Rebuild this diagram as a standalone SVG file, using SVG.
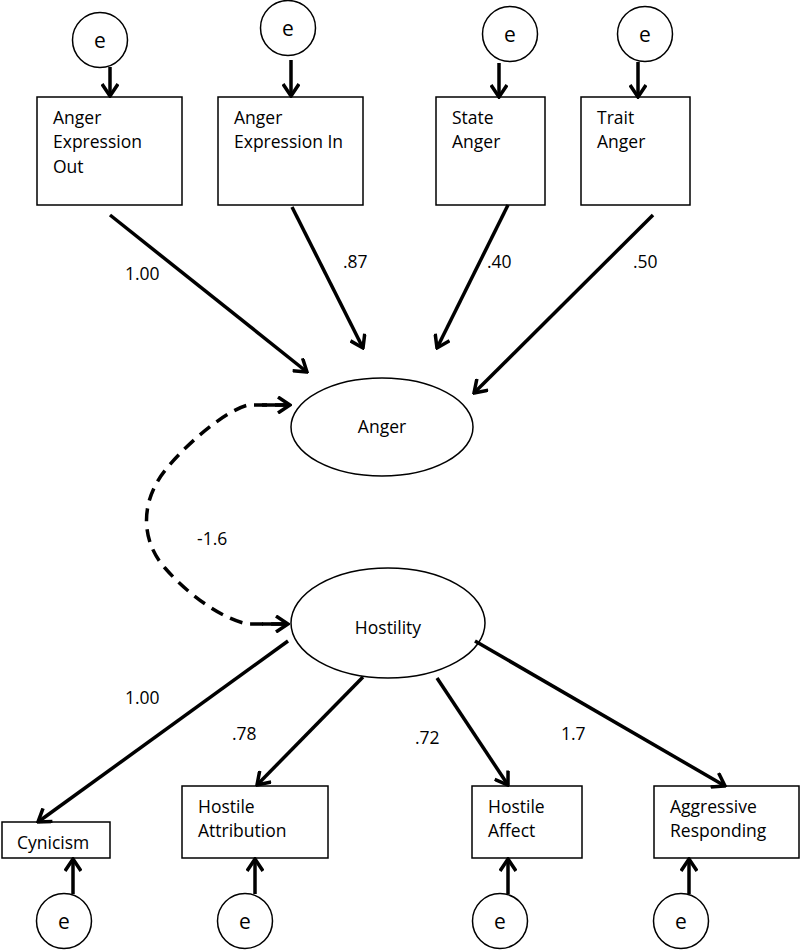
<svg xmlns="http://www.w3.org/2000/svg" width="800" height="950" viewBox="0 0 800 950">
<style>
text{font-family:"Open Sans","Liberation Sans",sans-serif;font-size:17.5px;fill:#000}
.e{font-size:21px;text-anchor:middle}
.nd{fill:#fff;stroke:#000;stroke-width:1.5}
.ln{stroke:#000;stroke-width:3.5;fill:none;marker-end:url(#ah)}
.ds{stroke:#000;stroke-width:3.5;fill:none;stroke-dasharray:13 8}
.c{text-anchor:middle}
</style>
<defs>
<marker id="ah" markerUnits="userSpaceOnUse" markerWidth="16" markerHeight="18" viewBox="-14 -9 16 18" refX="0" refY="0" orient="auto">
<path d="M-12,-8 L0,0 L-12,8" fill="none" stroke="#000" stroke-width="3.5"/>
</marker>
</defs>
<rect width="800" height="950" fill="#fff"/>
<g id="e1"><circle class="nd" cx="100" cy="40" r="27.5"/><text class="e" x="100" y="48">e</text></g>
<g id="e2"><circle class="nd" cx="288" cy="28" r="27.5"/><text class="e" x="288" y="36">e</text></g>
<g id="e3"><circle class="nd" cx="510" cy="34" r="27.5"/><text class="e" x="510" y="42">e</text></g>
<g id="e4"><circle class="nd" cx="645" cy="34" r="27.5"/><text class="e" x="645" y="42">e</text></g>
<g id="aeo"><rect class="nd" x="37" y="97" width="145" height="108"/><text x="53" y="124">Anger</text><text x="53" y="148">Expression</text><text x="53" y="173">Out</text></g>
<g id="aei"><rect class="nd" x="218" y="97" width="145" height="108"/><text x="234" y="124">Anger</text><text x="234" y="148">Expression In</text></g>
<g id="sa"><rect class="nd" x="436" y="97" width="109" height="108"/><text x="452" y="124">State</text><text x="452" y="148">Anger</text></g>
<g id="ta"><rect class="nd" x="581" y="97" width="109" height="108"/><text x="597" y="124">Trait</text><text x="597" y="148">Anger</text></g>
<g id="anger"><ellipse class="nd" cx="382" cy="427" rx="91" ry="49"/><text class="c" x="382" y="433">Anger</text></g>
<g id="hostility"><ellipse class="nd" cx="388" cy="623" rx="97" ry="55"/><text class="c" x="388" y="634">Hostility</text></g>
<g id="cyn"><rect class="nd" x="2" y="822" width="108" height="36"/><text x="17" y="849">Cynicism</text></g>
<g id="hat"><rect class="nd" x="182" y="786" width="146" height="72"/><text x="198" y="813">Hostile</text><text x="198" y="837">Attribution</text></g>
<g id="haf"><rect class="nd" x="472" y="786" width="110" height="72"/><text x="488" y="813">Hostile</text><text x="488" y="837">Affect</text></g>
<g id="ar"><rect class="nd" x="654" y="786" width="145" height="72"/><text x="670" y="813">Aggressive</text><text x="670" y="837">Responding</text></g>
<g id="e5"><circle class="nd" cx="64" cy="921" r="27.5"/><text class="e" x="64" y="929">e</text></g>
<g id="e6"><circle class="nd" cx="245" cy="921" r="27.5"/><text class="e" x="245" y="929">e</text></g>
<g id="e7"><circle class="nd" cx="500" cy="921" r="27.5"/><text class="e" x="500" y="929">e</text></g>
<g id="e8"><circle class="nd" cx="681" cy="921" r="27.5"/><text class="e" x="681" y="929">e</text></g>
<g id="connectors">
<line class="ln" x1="110" y1="67" x2="110" y2="96"/>
<line class="ln" x1="291" y1="60" x2="291" y2="96"/>
<line class="ln" x1="499" y1="63" x2="499" y2="97"/>
<line class="ln" x1="638" y1="62" x2="638" y2="97"/>
<line class="ln" x1="110" y1="215" x2="307" y2="372"/>
<line class="ln" x1="292" y1="207" x2="363" y2="348"/>
<line class="ln" x1="508" y1="205" x2="437" y2="348"/>
<line class="ln" x1="653" y1="215" x2="474" y2="393"/>
<path class="ds" d="M288,405 L248,405 C228,410 192,438 167,468 C140,500 140,540 165,568 C190,597 225,620 248,624 L286,624"/>
<line class="ln" x1="262" y1="405" x2="290" y2="405"/>
<line class="ln" x1="262" y1="624" x2="288" y2="624"/>
<line class="ln" x1="288" y1="641" x2="38" y2="822"/>
<line class="ln" x1="363" y1="677" x2="257" y2="785"/>
<line class="ln" x1="437" y1="678" x2="508" y2="785"/>
<line class="ln" x1="475" y1="641" x2="725" y2="786"/>
<line class="ln" x1="73" y1="894" x2="73" y2="859"/>
<line class="ln" x1="255" y1="894" x2="255" y2="859"/>
<line class="ln" x1="508" y1="894" x2="508" y2="859"/>
<line class="ln" x1="689" y1="894" x2="689" y2="859"/>
<text x="125" y="280">1.00</text>
<text x="343" y="268">.87</text>
<text x="487" y="268">.40</text>
<text x="633" y="268">.50</text>
<text x="197" y="545">-1.6</text>
<text x="125" y="704">1.00</text>
<text x="232" y="740">.78</text>
<text x="415" y="744">.72</text>
<text x="561" y="740">1.7</text>
</g>
</svg>
